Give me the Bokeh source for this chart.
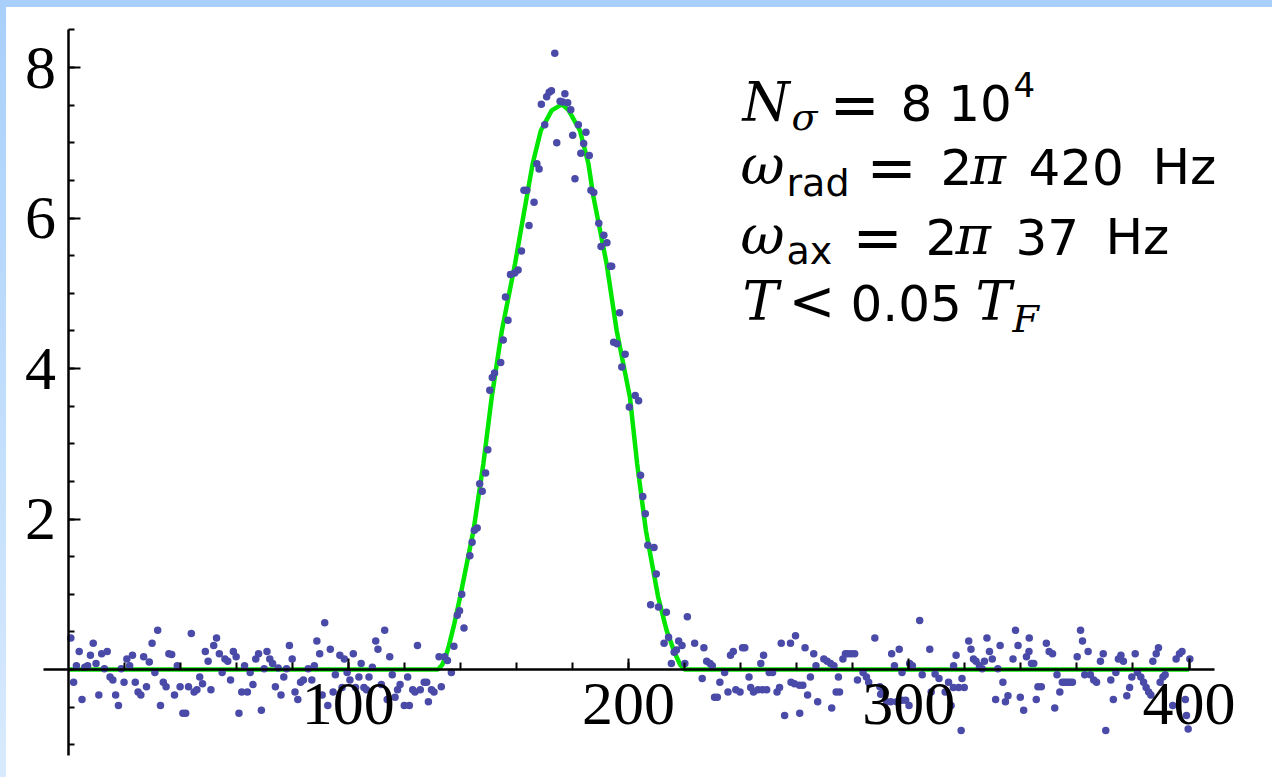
from bokeh.plotting import figure
from bokeh.models import LinearAxis, FixedTicker, Label, Range1d, ColumnDataSource
from bokeh.layouts import column
from bokeh.embed import file_html
from bokeh.resources import INLINE

# ---------------- data ----------------
left_x = list(range(1, 85))
left_y = [0.42, -0.17, 0.05, 0.24, -0.40, 0.03, 0.05, 0.19, 0.35, 0.08,
          -0.34, 0.21, 0.01, 0.24, -0.10, -0.14, -0.34, -0.48, 0.01, -0.17,
          0.14, 0.05, 0.19, -0.17, -0.30, -0.34, 0.17, -0.23, 0.10, 0.35,
          -0.04, 0.52, -0.48, -0.17, -0.23, 0.21, 0.20, -0.34, 0.05, -0.23,
          -0.58, -0.58, -0.23, 0.48, -0.30, -0.27, -0.10, -0.19, 0.24, 0.11,
          -0.27, 0.32, 0.42, 0.21, -0.04, 0.14, 0.11, -0.14, 0.24, 0.17,
          -0.58, -0.30, 0.05, -0.30, -0.04, -0.20, 0.14, 0.21, -0.54, 0.01,
          0.24, 0.14, 0.08, -0.23, 0.02, -0.34, -0.10, 0.01, 0.32, 0.14,
          -0.30, -0.40, -0.17, -0.14]

mid_x = [85.7, 87.0, 87.9, 88.8, 89.8, 90.7, 91.6, 92.7, 93.6, 94.6,
         95.4, 97.0, 97.8, 98.6, 99.6, 100.6, 101.8, 102.6, 103.8, 104.6,
         105.6, 106.5, 107.4, 108.6, 109.8, 110.6, 111.8, 113.0, 113.9, 114.8,
         115.7, 116.7, 117.6, 118.5, 120.0, 121.2, 121.8, 123.0, 123.8, 124.7,
         125.7, 127.1, 128.0, 128.6, 129.7, 130.6, 132.4, 133.2, 134.4, 135.4,
         136.8, 137.7, 138.9, 139.7, 140.5, 141.3]
mid_y = [0.01, -0.14, 0.05, 0.38, 0.21, -0.34, 0.62, -0.48, 0.27, -0.30,
         -0.07, 0.19, -0.24, 0.14, -0.04, -0.14, 0.21, -0.24, -0.10, 0.08,
         -0.24, -0.27, -0.10, 0.03, 0.38, 0.27, -0.20, 0.52, -0.40, 0.17,
         -0.07, -0.37, -0.27, -0.20, -0.48, -0.10, -0.48, -0.27, -0.30, 0.32,
         -0.27, -0.17, -0.17, -0.43, -0.27, -0.30, 0.17, -0.23, 0.17, 0.12,
         -0.04, 0.31, 0.72, 0.78, 1.00, 0.55]

peak_x = [143.4, 144.2, 145.0, 146.0, 146.9, 147.8, 149.0, 149.8, 150.5, 151.4,
          152.2, 154.4, 155.3, 156.1, 157.0, 157.9, 159.4, 160.6, 161.8, 162.7,
          163.7, 164.5, 166.3, 167.3, 168.1, 168.9, 170.1, 170.8, 171.7, 172.5,
          173.7, 174.4, 175.6, 176.5, 177.3, 178.3, 179.4, 180.1, 180.9, 182.1,
          183.0, 184.0, 184.8, 186.0, 186.6, 187.6, 189.4, 190.2, 191.2, 192.3,
          193.5, 194.0, 194.7, 195.9, 196.8, 197.6, 198.8, 200.3, 202.4, 203.6,
          204.3, 205.1, 206.0, 206.9, 207.9, 209.1, 209.9, 210.7, 212.7, 213.5,
          214.3, 215.3, 216.3, 217.1, 217.9, 219.1, 220.1, 221.0, 223.6]
peak_y = [1.51, 1.69, 1.85, 1.88, 2.47, 2.37, 2.61, 2.92, 3.71, 3.88,
          3.94, 4.08, 4.38, 4.95, 4.64, 5.25, 5.27, 5.31, 5.56, 6.37,
          6.37, 5.90, 6.21, 6.72, 6.65, 7.51, 7.24, 7.61, 7.67, 7.69,
          8.19, 7.00, 7.55, 7.54, 7.65, 7.53, 7.44, 7.10, 6.52, 7.24,
          6.86, 6.99, 7.14, 6.83, 6.37, 6.34, 5.93, 5.62, 5.77, 5.67,
          5.36, 5.36, 4.35, 4.33, 4.74, 4.02, 4.19, 3.49, 3.64, 3.57,
          2.58, 2.30, 2.07, 1.65, 0.86, 1.62, 1.27, 0.83, 0.35, 0.76,
          0.43, 0.08, 0.23, 0.26, 0.38, 0.32, 0.08, 0.70, 0.35]

r1_x = [226.3, 226.9, 227.9, 229.1, 229.9, 230.7, 231.7, 232.6, 234.3, 235.5,
        236.4, 237.4, 238.3, 239.8, 240.7, 241.5, 243.0, 243.6, 244.6, 246.2,
        247.2, 247.8, 248.2, 249.3, 250.2, 251.4, 253.0, 253.9, 254.5, 255.7,
        257.8, 258.0, 259.2, 259.6, 261.0, 261.1, 262.2, 263.0, 263.9, 264.9,
        266.1, 266.9, 267.5, 269.7, 270.9, 272.1, 272.5, 273.3, 274.1, 274.9,
        275.3, 276.5, 277.4, 278.3, 279.5, 280.7, 281.7, 283.7, 284.9, 285.7,
        287.9, 289.7, 290.0, 290.9, 292.1, 293.6, 293.9, 294.9, 295.7, 296.6,
        297.5, 297.6, 298.9, 300.1, 300.3, 301.3, 303.9, 304.8, 307.5, 308.0,
        309.4, 310.8]
r1_y = [-0.12, 0.29, 0.11, 0.08, 0.05, -0.37, -0.37, -0.17, -0.04, -0.30,
        0.19, 0.24, -0.27, -0.30, 0.29, 0.29, -0.10, -0.24, -0.30, -0.27,
        0.08, -0.27, 0.19, -0.27, -0.04, -0.04, -0.30, -0.24, 0.35, -0.61,
        0.35, -0.17, -0.19, 0.45, -0.21, -0.58, -0.21, 0.29, -0.34, -0.10,
        0.21, 0.05, -0.43, 0.14, 0.11, 0.08, -0.51, 0.05, -0.30, -0.10,
        -0.30, 0.14, 0.21, 0.21, 0.21, 0.21, -0.14, -0.04, -0.10, -0.17,
        0.42, -0.23, -0.33, -0.27, -0.43, -0.43, 0.21, 0.05, -0.43, 0.27,
        -0.41, -0.04, -0.41, -0.48, 0.08, 0.05, 0.65, -0.07, 0.27, -0.30,
        -0.06, -0.12]

r2_x = [313.0, 314.2, 315.1, 315.9, 316.0, 316.9, 317.8, 318.7, 319.0, 319.8,
        321.4, 322.2, 323.1, 324.0, 325.2, 326.2, 327.0, 327.9, 328.8, 329.8,
        331.0, 331.8, 332.6, 333.6, 334.5, 335.4, 337.2, 338.1, 339.0, 339.8,
        341.0, 342.0, 342.9, 343.0, 343.8, 344.6, 345.5, 346.1, 347.3, 349.1,
        350.1, 351.3, 352.1, 352.9, 353.9, 354.8, 355.7, 356.5, 357.5, 358.4,
        360.1, 361.3, 362.0, 362.8, 364.0, 364.8, 366.0, 367.0, 368.4, 369.4,
        370.3, 372.1, 373.0, 373.9, 374.8, 375.7, 376.6, 377.8, 378.8, 379.6,
        380.8, 381.6, 382.8, 383.8, 384.7, 385.6, 386.4, 387.1, 388.3, 389.1,
        389.7, 390.7, 391.5, 394.2, 395.4, 396.6, 397.5, 398.7, 399.1, 399.7,
        400.3]
r2_y = [-0.30, -0.17, -0.48, -0.24, 0.05, 0.19, -0.24, -0.81, -0.12, -0.24,
        0.38, 0.27, 0.14, 0.11, 0.05, 0.01, 0.11, 0.42, 0.24, 0.14,
        -0.40, 0.01, 0.32, -0.17, -0.43, -0.35, 0.14, 0.52, 0.32, -0.37,
        -0.54, 0.17, 0.24, 0.42, 0.08, 0.08, -0.40, -0.23, -0.23, 0.35,
        0.24, 0.21, -0.51, -0.07, -0.30, -0.17, -0.17, -0.17, -0.17, -0.17,
        0.17, 0.52, 0.38, -0.07, 0.24, -0.07, -0.14, -0.17, 0.11, 0.21,
        -0.81, -0.14, -0.40, -0.04, 0.14, 0.19, 0.11, -0.35, -0.24, -0.10,
        0.21, -0.04, -0.10, -0.17, -0.24, -0.30, -0.34, 0.11, 0.21, 0.29,
        -0.17, -0.10, -0.07, -0.48, 0.14, 0.21, 0.24, -0.40, -0.61, -0.79,
        0.14]

# fitted profile (green)
fit_x = [0, 132.0, 133.5, 134.7, 135.8, 137.8, 139.9, 144.7, 148.2, 151.2, 154.8,
         159.5, 163.7, 165.8, 168.7, 172.6, 176.2, 178.5, 182.7, 185.7, 187.5,
         192.2, 195.8, 200.5, 203.1, 206.2, 210.6, 213.6, 216.5, 218.5, 220.0, 400]
fit_y = [0, 0, 0.06, 0.16, 0.30, 0.60, 0.96, 1.85, 2.73, 3.62, 4.50,
         5.39, 6.28, 6.72, 7.16, 7.43, 7.51, 7.44, 7.16, 6.72, 6.28,
         5.39, 4.50, 3.62, 2.73, 1.85, 0.96, 0.52, 0.22, 0.06, 0, 0]

x_major = [100, 200, 300, 400]
x_minor = [20, 40, 60, 80, 100, 120, 140, 160, 180, 200, 220, 240, 260, 280,
           300, 320, 340, 360, 380, 400]
y_major = [2, 4, 6, 8]
y_minor = [-1.0, -0.5, 0.0, 0.5, 1.0, 1.5, 2.0, 2.5, 3.0, 3.5, 4.0, 4.5, 5.0,
           5.5, 6.0, 6.5, 7.0, 7.5, 8.0, 8.5]
x_axis_bounds = (-8.9, 409.1)
y_axis_bounds = (-1.143, 8.505)

# ---------------- geometry (page pixels) ----------------
ML, MT = 6, 7                    # blue strips of the slide behind the chart
W, H = 1272 - ML, 777 - MT       # white canvas
XO_PX, X_SCALE = 67.5, 2.8025    # page px of x=0, px per x unit
YO_PX, Y_SCALE = 669.0, 75.25    # page px of y=0, px per y unit
X0 = (ML - XO_PX) / X_SCALE
X1 = (1272 - XO_PX) / X_SCALE
Y1 = (YO_PX - MT) / Y_SCALE
Y0 = (YO_PX - 777) / Y_SCALE

p = figure(width=W, height=H,
           x_range=Range1d(X0, X1), y_range=Range1d(Y0, Y1),
           x_axis_location=None, y_axis_location=None,
           output_backend="svg", toolbar_location=None, min_border=0)
p.margin = (MT, 0, 0, ML)
p.styles = {"background": "white"}
p.grid.visible = False
p.outline_line_color = None
p.background_fill_color = "white"
p.border_fill_color = "white"

def style_axis(ax):
    ax.axis_line_color = "black"
    ax.axis_line_width = 2.5
    ax.major_tick_line_color = "black"
    ax.major_tick_line_width = 2
    ax.minor_tick_line_color = "black"
    ax.minor_tick_line_width = 2
    ax.major_tick_out = 0
    ax.minor_tick_out = 0
    ax.major_label_text_font = "Liberation Serif"
    ax.major_label_text_font_size = "62px"
    ax.major_label_text_color = "black"

xaxis = LinearAxis(fixed_location=0, bounds=x_axis_bounds,
                   ticker=FixedTicker(ticks=x_major, minor_ticks=x_minor))
style_axis(xaxis)
xaxis.major_tick_in = 11
xaxis.minor_tick_in = 7
xaxis.major_label_standoff = 14
p.add_layout(xaxis, "below")

yaxis = LinearAxis(fixed_location=0, bounds=y_axis_bounds,
                   ticker=FixedTicker(ticks=y_major, minor_ticks=y_minor))
style_axis(yaxis)
yaxis.major_tick_in = 12
yaxis.minor_tick_in = 6
yaxis.major_label_standoff = 12
p.add_layout(yaxis, "left")

p.line(fit_x, fit_y, line_color="#00e600", line_width=4.5)

pts_x = left_x + mid_x + peak_x + r1_x + r2_x
pts_y = left_y + mid_y + peak_y + r1_y + r2_y
src = ColumnDataSource(data=dict(x=pts_x, y=pts_y))
p.scatter("x", "y", source=src, size=7.5, fill_color="#4a4aa8",
          line_color=None)

# ---------------- annotation text ----------------
def xd(px):
    return (px - XO_PX) / X_SCALE

def yd(py):
    return (YO_PX - py) / Y_SCALE

MATH = "DejaVu Serif"
SANS = "DejaVu Sans"
pieces = [
    # text, left px, baseline px, font, style, size
    ("N", 742, 122, MATH, "italic", 54),
    ("\u03c3", 791, 131, MATH, "italic", 38),
    ("=", 829, 126, SANS, "normal", 60),
    ("8 10", 900, 122, SANS, "normal", 50),
    ("4", 1013, 97, SANS, "normal", 34),

    ("\u03c9", 740, 185, MATH, "italic", 54),
    ("rad", 786, 197, SANS, "normal", 38),
    ("=", 866, 189, SANS, "normal", 60),
    ("2", 940, 185, SANS, "normal", 50),
    ("\u03c0", 970, 185, MATH, "italic", 54),
    ("420", 1028, 185, SANS, "normal", 50),
    ("Hz", 1152, 185, SANS, "normal", 50),

    ("\u03c9", 740, 255, MATH, "italic", 54),
    ("ax", 786, 265, SANS, "normal", 38),
    ("=", 852, 259, SANS, "normal", 60),
    ("2", 925, 255, SANS, "normal", 50),
    ("\u03c0", 955, 255, MATH, "italic", 54),
    ("37", 1015, 255, SANS, "normal", 50),
    ("Hz", 1105, 255, SANS, "normal", 50),

    ("T", 742, 321, MATH, "italic", 54),
    ("<", 788, 321, SANS, "normal", 56),
    ("0.05", 850, 321, SANS, "normal", 50),
    ("T", 975, 321, MATH, "italic", 54),
    ("F", 1012, 333, MATH, "italic", 38),
]
for txt, px, py, font, style, size in pieces:
    p.add_layout(Label(x=xd(px), y=yd(py - 0.37 * size), text=txt,
                       text_font=font, text_font_style=style,
                       text_font_size=f"{size}px", text_color="black",
                       text_align="left", text_baseline="alphabetic"))

layout = column(p, styles={"background": "linear-gradient(180deg, #a8d0fb 0%, #d8eafd 100%)"})

open("out.html", "w").write(file_html(layout, INLINE))
